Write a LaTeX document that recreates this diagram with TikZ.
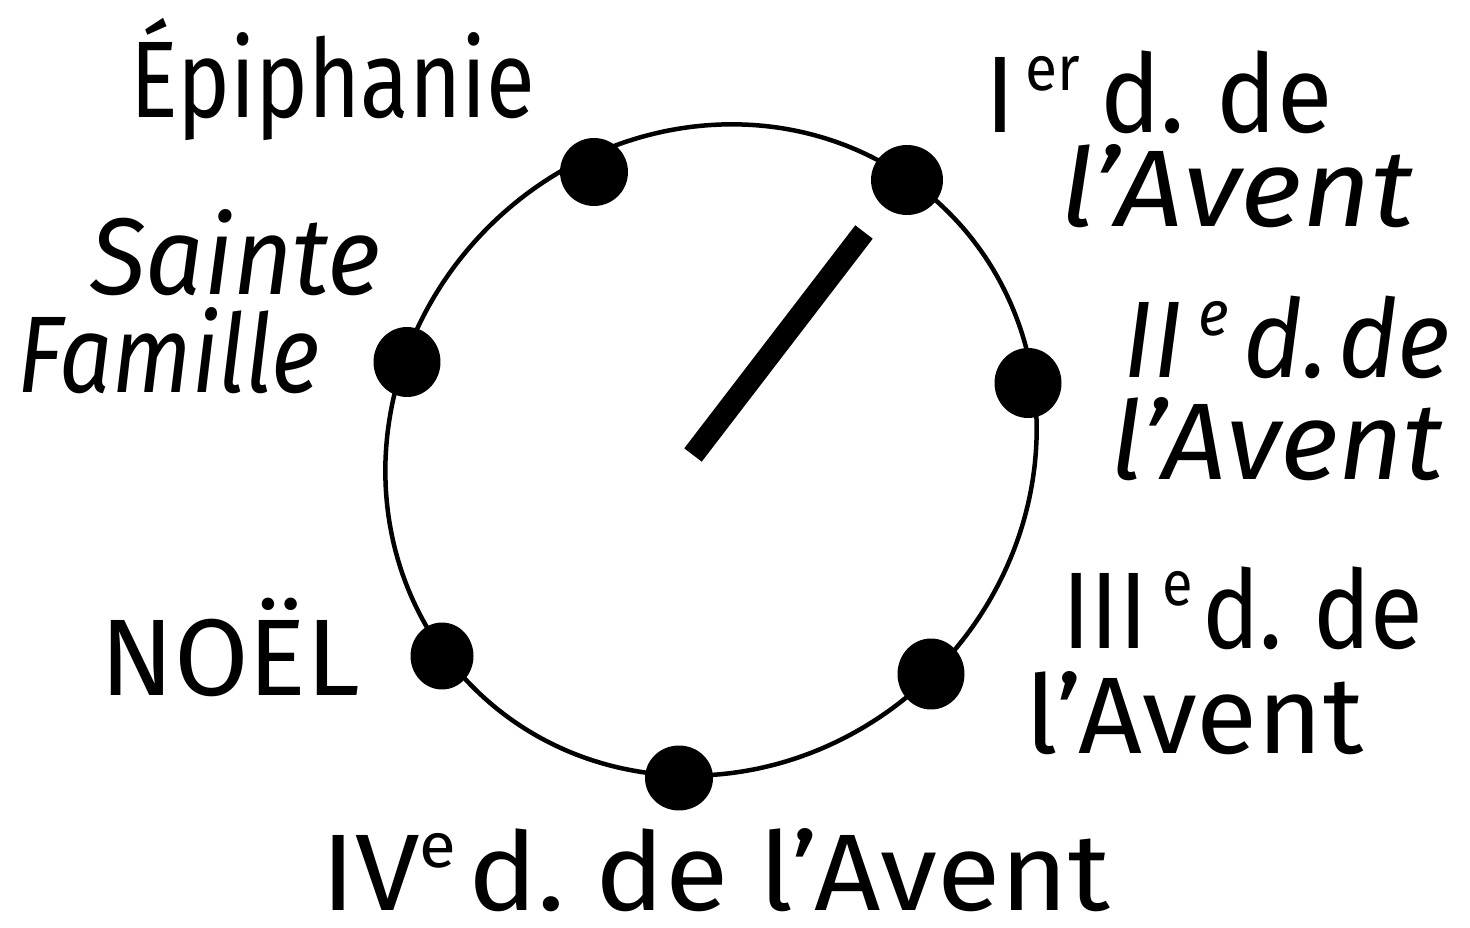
\documentclass[tikz,border=0pt]{standalone}
\usepackage{fontspec}
\setmainfont{Fira Sans}
\usepackage{graphicx}
\usetikzlibrary{shapes.geometric}
\newcommand\supx[1]{\raisebox{24pt}{\fontsize{36}{36}\selectfont #1}}
\newcommand\fitw[2]{\resizebox{#1}{\height}{#2}}
\begin{document}
\begin{tikzpicture}[x=0.02cm,y=-0.02cm,
  dot/.style={ellipse, fill=black, inner sep=0pt},
  lbl/.style={anchor=base west, inner sep=0pt, text depth=0pt, font=\fontsize{62}{70}\selectfont},
  rim/.style={line width=0.09cm},
  hand/.style={line width=0.44cm, line cap=butt}]
\useasboundingbox (0,0) rectangle (1470,928);
% dot positions
\coordinate (pEpi) at (594,172);
\coordinate (pA1) at (907,180);
\coordinate (pA2) at (1028,383);
\coordinate (pA3) at (931,674);
\coordinate (pA4) at (679,778);
\coordinate (pNoel) at (442,656);
\coordinate (pSF) at (407,362);
% rim: slightly oval circle, long axis towards the upper right
\draw[rim] plot[domain=0:360, samples=145, smooth]
  ({711 + 336*cos(\x)*0.7071 - 315*sin(\x)*0.7071},
   {450 - 336*cos(\x)*0.7071 - 315*sin(\x)*0.7071}) -- cycle;
% hand
\coordinate (hIn) at (693,455);
\coordinate (hOut) at (864,232);
\draw[hand] (hIn) -- (hOut);
% dots
\node[dot, minimum width=1.36cm, minimum height=1.36cm] (dEpi) at (pEpi) {};
\node[dot, minimum width=1.44cm, minimum height=1.40cm] (dA1) at (pA1) {};
\node[dot, minimum width=1.34cm, minimum height=1.40cm] (dA2) at (pA2) {};
\node[dot, minimum width=1.34cm, minimum height=1.42cm] (dA3) at (pA3) {};
\node[dot, minimum width=1.36cm, minimum height=1.30cm] (dA4) at (pA4) {};
\node[dot, minimum width=1.26cm, minimum height=1.34cm] (dNoel) at (pNoel) {};
\node[dot, minimum width=1.34cm, minimum height=1.40cm] (dSF) at (pSF) {};
% labels
\node[lbl] (tEpi) at (130,118) {\fitw{8.1cm}{Épiphanie}};
\node[lbl] (tA1a) at (985,133) {\fitw{6.94cm}{I\kern.1em\supx{er}\kern.2em d.\kern.05em\ de}};
\node[lbl] (tA1b) at (1060,227) {\fitw{7.06cm}{\itshape l’Avent}};
\node[lbl] (tA2a) at (1123,378) {\fitw{6.54cm}{\itshape II\kern.15em\supx{e}\kern.15em d.\kern.1em de}};
\node[lbl] (tA2b) at (1110,480) {\fitw{6.66cm}{\itshape l’Avent}};
\node[lbl] (tA3a) at (1062,648) {\fitw{7.22cm}{III\kern.15em\supx{e}\kern.1em d.\kern.05em\ de}};
\node[lbl] (tA3b) at (1025,753) {\fitw{6.76cm}{l’Avent}};
\node[lbl] (tA4) at (321,910) {\fitw{15.78cm}{IV\supx{e}\kern.1em d.\ de l’Avent}};
\node[lbl] (tNoel) at (100,695) {\fitw{5.2cm}{NOËL}};
\node[lbl] (tSa) at (90,295) {\fitw{5.8cm}{\itshape Sainte}};
\node[lbl] (tFa) at (17,393) {\fitw{6.06cm}{\itshape Famille}};
\end{tikzpicture}
\end{document}
